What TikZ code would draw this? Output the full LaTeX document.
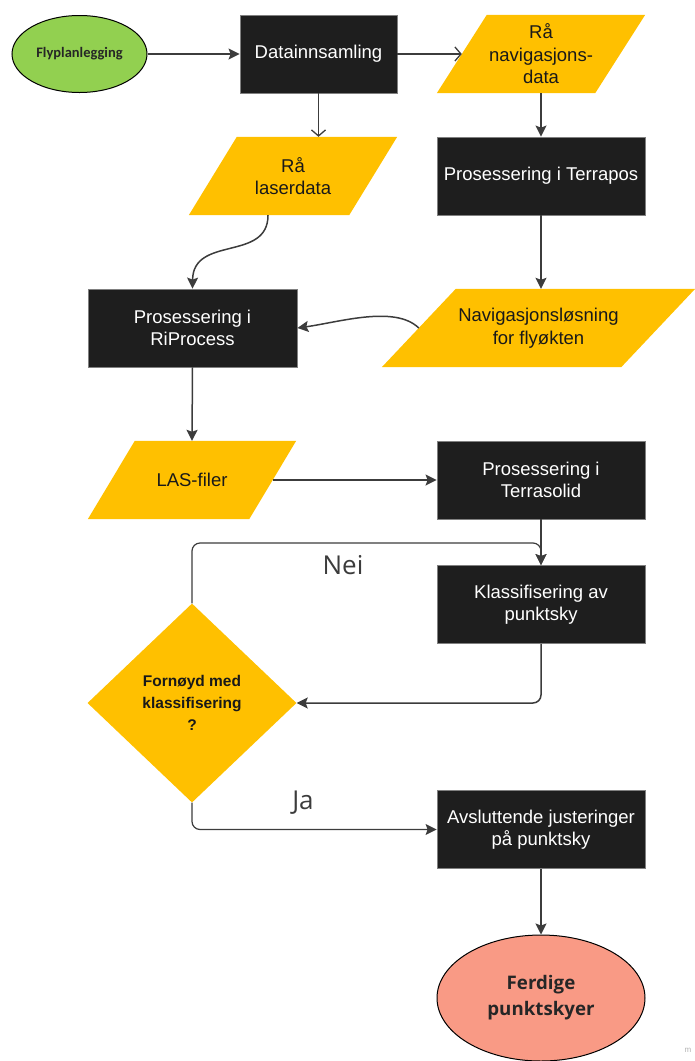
\documentclass[tikz,border=0pt]{standalone}
\usepackage{fontspec}
\setmainfont{Liberation Sans}
\newfontfamily\calfont{Carlito}
\newfontfamily\osfont{Open Sans}
\usetikzlibrary{shapes.geometric,arrows.meta,calc,backgrounds}
\definecolor{gul}{HTML}{FFC000}
\definecolor{sv}{HTML}{1E1E1E}
\definecolor{gr}{HTML}{92D050}
\definecolor{lk}{HTML}{F99A85}
\definecolor{strek}{HTML}{3C3C3C}

\begin{document}
\begin{tikzpicture}[x=1pt,y=-1pt,
    boks/.style={rectangle,fill=sv,draw=gray,line width=0.8pt,text=white,
      minimum width=208pt,minimum height=78pt,align=center,
      font=\fontsize{18.5}{22.5}\selectfont},
    data/.style={rectangle,text=black!90,minimum height=78pt,inner sep=0pt,align=center,
      font=\fontsize{18.5}{22.5}\selectfont},
    pil/.style={draw=strek,line width=1.5pt,-{Stealth[length=11pt,width=11pt,inset=2pt]}},
    apil/.style={draw=strek,line width=1.3pt,-{Straight Barb[length=6pt,width=14pt]}},
    svar/.style={text=strek,font=\osfont\fontsize{26}{30}\selectfont}]
  \useasboundingbox (0,0) rectangle (695,1061);

  % boksene
  \node[ellipse,draw=black,line width=1pt,fill=gr,minimum width=135pt,minimum height=77pt,
    text=black!85,font=\calfont\bfseries\fontsize{14.5}{17}\selectfont] (fly) at (79.5,54) {Flyplanlegging};
  \node[boks,minimum width=157pt] (data) at (318.5,54) {Datainnsamling};
  \node[data,minimum width=158pt] (ranav) at (541,54) {Rå\\navigasjons-\\data};
  \node[data,minimum width=160pt] (lasr) at (293,176) {Rå\\laserdata};
  \node[boks] (terra) at (541,176) {Prosessering i Terrapos};
  \node[data,minimum width=239pt] (navsol) at (538.5,328) {Navigasjonsløsning\\for flyøkten};
  \node[boks,minimum width=209pt] (riproc) at (192.5,328) {Prosessering i\\RiProcess};
  \node[data,minimum width=161pt] (las) at (192,480) {LAS-filer};
  \node[boks] (tsolid) at (541,480) {Prosessering i\\Terrasolid};
  \node[boks] (klass) at (541,604.5) {Klassifisering av\\punktsky};
  \node[diamond,fill=gul,minimum width=209pt,minimum height=199pt,inner sep=0pt,align=center,
    text=black!90,font=\bfseries\fontsize{15.5}{22}\selectfont] (fornoyd) at (192,703) {Fornøyd med\\klassifisering\\?};
  \node[boks] (avsl) at (541,829.5) {Avsluttende justeringer\\på punktsky};
  \node[ellipse,draw=black,line width=1pt,fill=lk,minimum width=208pt,minimum height=126pt,align=center,
    text=black!85,font=\osfont\bfseries\fontsize{18.7}{26}\selectfont] (ferdig) at (541,998) {Ferdige\\punktskyer};

  % skrå bokser bak teksten
  \begin{scope}[on background layer]
    \foreach \n/\s in {ranav/25,lasr/24,navsol/37,las/23.5}
      \fill[gul] ($(\n.north west)+(\s,0)$) -- ($(\n.north east)+(\s,0)$)
        -- ($(\n.south east)-(\s,0)$) -- ($(\n.south west)-(\s,0)$) -- cycle;
  \end{scope}

  % pilene
  \draw[pil] (fly) -- (data);
  \draw[apil] (data.east) -- (ranav.west);
  \draw[apil] (data.south) -- (data.south |- lasr.north);
  \draw[pil] (ranav.south) -- (terra.north);
  \draw[pil] (terra.south) -- (terra.south |- navsol.north);
  \draw[pil] ($(lasr.south)-(25,0)$) .. controls (268,262) and (193,235) .. (riproc.north);
  \draw[pil] (navsol.west) .. controls (395,305) and (340,322) .. (riproc.east);
  \draw[pil] (riproc.south) -- (las.north);
  \draw[pil] (las.east) -- (tsolid.west);
  \draw[pil] (tsolid.south) -- (klass.north);
  \draw[pil,rounded corners=8pt] (klass.south) |- (fornoyd.east);
  \coordinate (neisving) at (541,543);
  \draw[pil,line width=1.2pt,rounded corners=8pt] (fornoyd.north) |- (neisving) -- (klass.north);
  \draw[pil,line width=1.2pt,rounded corners=8pt] (fornoyd.south) |- (avsl.west);
  \draw[pil] (avsl.south) -- (ferdig.north);

  \node[svar] (nei) at (343,565) {Nei};
  \node[svar] (ja) at (303,803) {Ja};
  \node[text=gray!60,font=\fontsize{8}{8}\selectfont] (merke) at (688,1050) {m};
\end{tikzpicture}
\end{document}
